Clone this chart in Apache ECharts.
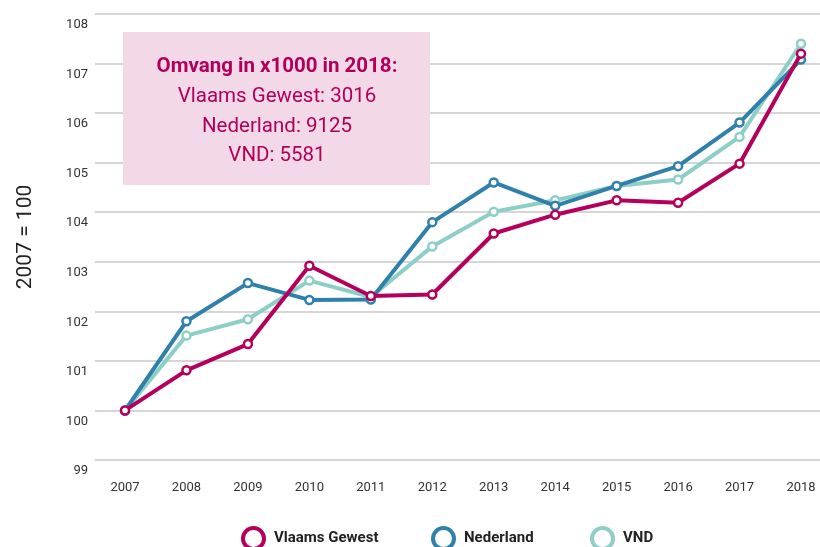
<!DOCTYPE html>
<html>
<head>
<meta charset="utf-8">
<script src="https://cdn.jsdelivr.net/npm/echarts@6/dist/echarts.min.js"></script>
<style>
  html, body { margin: 0; padding: 0; background: #fff; }
  #chart { width: 820px; height: 547px; }
</style>
</head>
<body>
<div id="chart"></div>
<script>
// jaren en indexwaarden (2007 = 100)
const years = ['2007', '2008', '2009', '2010', '2011', '2012', '2013', '2014', '2015', '2016', '2017', '2018']
const vlaamsGewest = [100, 100.81, 101.34, 102.92, 102.31, 102.34, 103.57, 103.95, 104.24, 104.19, 104.98, 107.20]
const nederland = [100, 101.80, 102.57, 102.23, 102.24, 103.80, 104.60, 104.13, 104.53, 104.93, 105.81, 107.08]
const vnd = [100, 101.51, 101.84, 102.62, 102.29, 103.31, 104.01, 104.24, 104.53, 104.66, 105.52, 107.40]
const boxLines = ['Vlaams Gewest: 3016', 'Nederland: 9125', 'VND: 5581']

const colors = { vg: '#b4005c', nl: '#2f80ab', vnd: '#8dcfc6' }
const font = 'Roboto, "Open Sans", sans-serif'

function lineSeries(name, data, color, z) {
  return {
    name,
    type: 'line',
    data,
    z,
    symbol: 'circle',
    symbolSize: 8,
    itemStyle: { color: '#fff', borderColor: color, borderWidth: 2.5 },
    lineStyle: { color, width: 4 },
    emphasis: { disabled: true }
  }
}

// losse legenda per reeks, zodat de afstanden gelijk zijn aan het origineel
function legendFor(name, color, left) {
  return {
    top: 521,
    left,
    itemWidth: 21,
    itemHeight: 21,
    icon: 'circle',
    textStyle: { fontSize: 15, fontWeight: 'bold', color: '#222', fontFamily: font, padding: [0, 0, 0, 5] },
    data: [{ name, itemStyle: { color: '#fff', borderColor: color, borderWidth: 4 } }]
  }
}

const chart = echarts.init(document.getElementById('chart'))
chart.setOption({
  animation: false,
  textStyle: { fontFamily: font },
  // grid 0: de lijnen; grid 1: alleen de horizontale rasterlijnen over de volle breedte
  grid: [
    { left: 125, right: 19, top: 14, bottom: 87 },
    { left: 95, right: 0, top: 14, bottom: 87 }
  ],
  legend: [
    legendFor('Vlaams Gewest', colors.vg, 236),
    legendFor('Nederland', colors.nl, 426),
    legendFor('VND', colors.vnd, 585)
  ],
  xAxis: [
    {
      type: 'category',
      data: years,
      boundaryGap: false,
      gridIndex: 0,
      axisLine: { show: false },
      axisTick: { show: false },
      axisLabel: { color: '#333', fontSize: 13, margin: 21 }
    },
    { type: 'value', gridIndex: 1, show: false }
  ],
  yAxis: [
    {
      type: 'value',
      gridIndex: 0,
      min: 99,
      max: 108,
      interval: 1,
      name: '2007 = 100',
      nameLocation: 'middle',
      nameGap: 89,
      nameTextStyle: { fontSize: 21, color: '#222' },
      axisLine: { show: false },
      axisTick: { show: false },
      axisLabel: {
        color: '#333',
        fontSize: 13,
        margin: 37,
        formatter: '{a|{value}}',
        rich: { a: { fontSize: 13, color: '#333', padding: [22, 0, 0, 0] } }
      },
      splitLine: { show: false }
    },
    {
      type: 'value',
      gridIndex: 1,
      min: 99,
      max: 108,
      interval: 1,
      axisLine: { show: false },
      axisTick: { show: false },
      axisLabel: { show: false },
      splitLine: { lineStyle: { color: '#c8c8c8', width: 1.5 } }
    }
  ],
  graphic: [
    {
      type: 'rect',
      shape: { x: 123, y: 32, width: 307, height: 153 },
      style: { fill: '#f3d9e8' },
      z: 1
    },
    {
      type: 'text',
      x: 277, y: 67,
      style: { text: 'Omvang in x1000 in 2018:', fill: '#b0005a', font: 'bold 20.5px ' + font, align: 'center', verticalAlign: 'middle' },
      z: 2
    },
    ...boxLines.map((t, i) => ({
      type: 'text',
      x: 277, y: 97 + i * 29.5,
      style: { text: t, fill: '#b0005a', font: '20.5px ' + font, align: 'center', verticalAlign: 'middle' },
      z: 2
    }))
  ],
  series: [
    lineSeries('VND', vnd, colors.vnd, 3),
    lineSeries('Nederland', nederland, colors.nl, 4),
    lineSeries('Vlaams Gewest', vlaamsGewest, colors.vg, 5)
  ]
})
</script>
</body>
</html>
